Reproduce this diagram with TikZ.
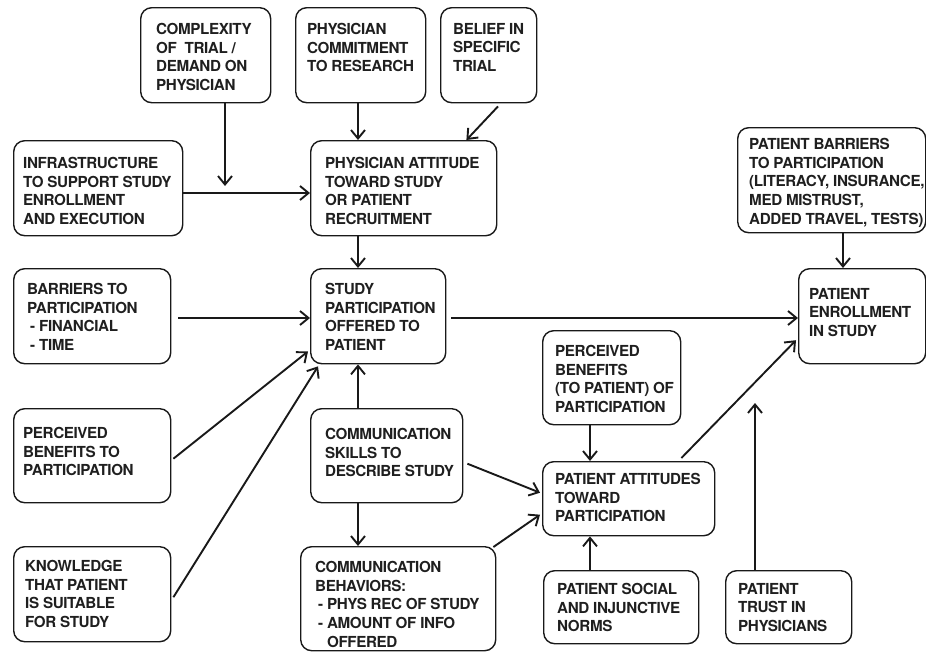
\documentclass[tikz,border=0pt]{standalone}
\usepackage{fontspec}
\setmainfont{TeX Gyre Heros}[LetterSpace=-2.5]
\usetikzlibrary{arrows.meta,calc}
\tikzset{
  bx/.style={draw=black!90, line width=1.4pt, rounded corners=11pt, inner sep=0pt, anchor=north west},
  txt/.style={inner sep=0pt, anchor=north west, align=left, text=black!88, font=\fontsize{15.2}{18.7}\selectfont\bfseries},
  arr/.style={draw=black!90, line width=1.9pt, -{Straight Barb[length=8.5pt,width=14pt,line width=1.9pt]}},
}
\newcommand{\mkbox}[7]{%
  \node[bx, minimum width=#4-#2, minimum height=#5-#3] (#1) at (#2,#3) {};
  \node[txt] (#1T) at (#6) {#7};}
\begin{document}
\begin{tikzpicture}[x=1pt,y=-1pt]
\useasboundingbox (0,0) rectangle (926,653);
\mkbox{cplx}{140}{7}{270}{102}{156,23}{COMPLEXITY\\OF\ \ TRIAL /\\DEMAND ON\\PHYSICIAN}
\mkbox{comm}{295}{7}{425}{102}{307,23}{PHYSICIAN\\COMMITMENT\\TO RESEARCH}
\mkbox{belief}{440}{7}{536}{102}{453,23}{BELIEF IN\\SPECIFIC\\TRIAL}
\mkbox{infra}{13}{140}{182}{235}{23,157}{INFRASTRUCTURE\\TO SUPPORT STUDY\\ENROLLMENT\\AND EXECUTION}
\mkbox{attit}{310}{140}{496}{235}{325,157}{PHYSICIAN ATTITUDE\\TOWARD STUDY\\OR PATIENT\\RECRUITMENT}
\mkbox{pbar}{737}{127}{925}{232}{749,138}{PATIENT BARRIERS\\TO PARTICIPATION\\(LITERACY, INSURANCE,\\MED MISTRUST,\\ADDED TRAVEL, TESTS)}
\mkbox{barr}{13}{268}{170}{363}{27,283}{BARRIERS TO\\PARTICIPATION\\\hspace*{3pt}- FINANCIAL\\\hspace*{3pt}- TIME}
\mkbox{study}{310}{268}{445}{363}{325,283}{STUDY\\PARTICIPATION\\OFFERED TO\\PATIENT}
\mkbox{enrol}{798}{268}{925}{363}{809,288}{PATIENT\\ENROLLMENT\\IN STUDY}
\mkbox{pben}{542}{330}{680}{424}{555,345}{PERCEIVED\\BENEFITS\\(TO PATIENT) OF\\PARTICIPATION}
\mkbox{perc}{13}{408}{170}{502}{23,427}{PERCEIVED\\BENEFITS TO\\PARTICIPATION}
\mkbox{cskill}{310}{408}{462}{502}{325,428}{COMMUNICATION\\SKILLS TO\\DESCRIBE STUDY}
\mkbox{know}{13}{546}{170}{641}{25,560}{KNOWLEDGE\\THAT PATIENT\\IS SUITABLE\\FOR STUDY}
\mkbox{cbeh}{300}{546}{495}{650}{315,561}{COMMUNICATION\\BEHAVIORS:\\\hspace*{3pt}- PHYS REC OF STUDY\\\hspace*{3pt}- AMOUNT OF INFO\\\hspace*{3pt}\phantom{- }OFFERED}
\mkbox{patt}{542}{461}{714}{535}{555,473}{PATIENT ATTITUDES\\TOWARD\\PARTICIPATION}
\mkbox{soc}{543}{570}{698}{643}{557,583}{PATIENT SOCIAL\\AND INJUNCTIVE\\NORMS}
\mkbox{trust}{725}{570}{851}{643}{738,583}{PATIENT\\TRUST IN\\PHYSICIANS}
% free ends and helper coordinates
\coordinate (tipA) at (225,186);
\coordinate (tipB) at (755,403);
\coordinate (hA) at (0,193);
\coordinate (hB) at (0,318);
\coordinate (vA) at (358,0);
\coordinate (vB) at (843,0);
\coordinate (vC) at (590,0);
% connectors
\draw[arr] (cplx.south -| tipA) -- (tipA);
\draw[arr] (infra.east |- hA) -- (attit.west |- hA);
\draw[arr] (comm.south -| vA) -- (attit.north -| vA);
\draw[arr] ($(belief.south west)+(58,3)$) -- ($(attit.north east)+(-31,0)$);
\draw[arr] (attit.south -| vA) -- (study.north -| vA);
\draw[arr] ($(barr.east |- hB)+(7,0)$) -- (study.west |- hB);
\draw[arr] ($(study.east |- hB)+(5,0)$) -- (enrol.west |- hB);
\draw[arr] (pbar.south -| vB) -- (enrol.north -| vB);
\draw[arr] ($(perc.east)+(2,3)$) -- ($(study.south west)+(-2,-13)$);
\draw[arr] ($(know.east)+(2,3)$) -- ($(study.south west)+(8,2)$);
\draw[arr] (cskill.north -| vA) -- (study.south -| vA);
\draw[arr] (cskill.south -| vA) -- (cbeh.north -| vA);
\draw[arr] ($(cskill.east)+(4,8)$) -- ($(patt.west)+(-2,-6)$);
\draw[arr] ($(cbeh.north east)+(-3,1)$) -- ($(patt.west)+(-2,16)$);
\draw[arr] (pben.south -| vC) -- (patt.north -| vC);
\draw[arr] (soc.north -| vC) -- (patt.south -| vC);
\draw[arr] ($(patt.north east)+(-34,-3)$) -- ($(enrol.west)+(-2,24)$);
\draw[arr] (trust.north -| tipB) -- (tipB);
\end{tikzpicture}
\end{document}
